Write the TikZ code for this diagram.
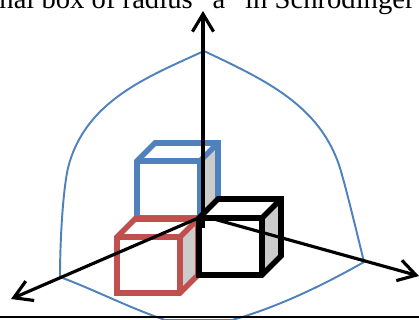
\documentclass[tikz,border=0pt]{standalone}
\usepackage{fontspec}
\setmainfont{Liberation Serif}
\usetikzlibrary{arrows.meta}

\definecolor{cubeblue}{RGB}{79,129,189}
\definecolor{cubered}{RGB}{192,80,77}
\tikzset{
    cubeline/.style={line width=3.2pt, line join=miter},
    sideface/.style={fill=black!20},
    axisline/.style={line width=1.8pt, -{Straight Barb[length=10pt, width=12pt, line width=1.8pt]}},
    boxcurve/.style={draw=cubeblue, line width=1.1pt}
}

% front left, front top, width, height, depth, colour
\newcommand{\drawcube}[6]{
    \fill[white] (#1,#2) -- ++(#5,-#5) -- ++(#3,0) -- ++(0,#4) -- ++(-#5,#5) -- ++(-#3,0) -- cycle;
    \fill[sideface] (#1+#3,#2) -- ++(#5,-#5) -- ++(0,#4) -- ++(-#5,#5) -- cycle;
    \draw[cubeline, draw=#6] (#1,#2) -- ++(#5,-#5) -- ++(#3,0) -- ++(0,#4) -- ++(-#5,#5) -- ++(-#3,0) -- cycle;
    \draw[cubeline, draw=#6] (#1,#2) -- ++(#3,0) -- ++(0,#4);
    \draw[cubeline, draw=#6] (#1+#3,#2) -- ++(#5,-#5);
}

\begin{document}
\begin{tikzpicture}[x=0.02cm, y=-0.02cm]
    \useasboundingbox (0,0) rectangle (419,320);

    \node[font=\fontsize{16.3pt}{18pt}\selectfont, anchor=base] (title) at (207,9) {nal box of radius ``a'' in Schrodinger};

    % the spherical box
    \draw[boxcurve] (204,51) .. controls (150,76) and (85,100) .. (68,168)
        .. controls (63,190) and (60,240) .. (60,277)
        .. controls (95,290) and (125,306) .. (165,320)
        -- (232,320) .. controls (275,308) and (320,287) .. (364,262)
        .. controls (355,225) and (346,188) .. (340,168)
        .. controls (320,105) and (265,80) .. (204,51);

    % cubes
    \drawcube{137}{161}{63}{57}{18}{cubeblue}
    \drawcube{117}{237}{63}{56}{18}{cubered}
    \drawcube{199}{218}{63}{57}{19}{black}

    % axes
    \coordinate (origin) at (203,216);
    \coordinate (base) at (203,228);
    \coordinate (ztip) at (203,11);
    \coordinate (xtip) at (11,299);
    \coordinate (ytip) at (419,276);
    \draw[axisline] (base) -- (ztip);
    \draw[axisline] (origin) -- (xtip);
    \draw[axisline] (origin) -- (ytip);

    % page rule
    \coordinate (ruleleft) at (0,317);
    \coordinate (ruleright) at (419,317);
    \draw[line width=1.1pt] (ruleleft) -- (ruleright);
\end{tikzpicture}
\end{document}
